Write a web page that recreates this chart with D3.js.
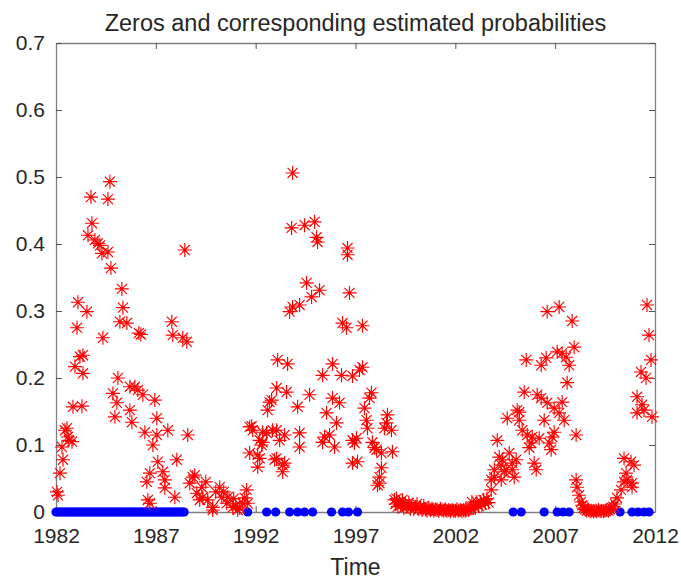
<!DOCTYPE html>
<html>
<head>
<meta charset="utf-8">
<script src="https://cdn.jsdelivr.net/npm/d3@7"></script>
<style>
  body { margin: 0; background: #fff; }
  svg text { font-family: "Liberation Sans", Arial, Helvetica, sans-serif; fill: #262626; }
</style>
</head>
<body>
<div class="container"></div>
<script>
// datos
const xTicks = [1982, 1987, 1992, 1997, 2002, 2007, 2012]
const yTicks = [0, 0.1, 0.2, 0.3, 0.4, 0.5, 0.6, 0.7]

// meses con cero observado (puntos azules)
const zeroTimes = [
  1982.00, 1982.08, 1982.17, 1982.25, 1982.33, 1982.42, 1982.50, 1982.58, 1982.67, 1982.75, 1982.83, 1982.92,
  1983.00, 1983.08, 1983.17, 1983.25, 1983.33, 1983.42, 1983.50, 1983.58, 1983.67, 1983.75, 1983.83, 1983.92,
  1984.00, 1984.08, 1984.17, 1984.25, 1984.33, 1984.42, 1984.50, 1984.58, 1984.67, 1984.75, 1984.83, 1984.92,
  1985.00, 1985.08, 1985.17, 1985.25, 1985.33, 1985.42, 1985.50, 1985.58, 1985.67, 1985.75, 1985.83, 1985.92,
  1986.00, 1986.08, 1986.17, 1986.25, 1986.33, 1986.42, 1986.50, 1986.58, 1986.67, 1986.75, 1986.83, 1986.92,
  1987.00, 1987.08, 1987.17, 1987.25, 1987.33, 1987.42, 1987.50, 1987.58, 1987.67, 1987.75, 1987.83, 1987.92,
  1988.00, 1988.08, 1988.17, 1988.25, 1988.33, 1988.42,
  1991.60, 1992.55, 1993.00, 1993.70, 1994.10, 1994.45, 1994.85, 1995.80, 1996.35, 1996.65, 1997.10,
  2004.90, 2005.30, 2006.45, 2007.10, 2007.40, 2007.70, 2010.25, 2010.85, 2011.15, 2011.45, 2011.70
]

// probabilidades estimadas (asteriscos rojos)
const probTimes = [
  1982.05, 1982.10, 1982.20, 1982.30, 1982.35, 1982.45, 1982.55, 1982.60, 1982.65, 1982.80, 1982.85, 1982.95,
  1983.05, 1983.10, 1983.20, 1983.30, 1983.35, 1983.35, 1983.55, 1983.60, 1983.75, 1983.80, 1983.95,
  1984.10, 1984.20, 1984.30, 1984.35, 1984.60, 1984.60, 1984.70, 1984.75, 1984.85, 1984.95,
  1985.05, 1985.10, 1985.20, 1985.30, 1985.35, 1985.55, 1985.70, 1985.70, 1985.80, 1985.95,
  1986.10, 1986.15, 1986.25, 1986.35, 1986.45, 1986.55, 1986.60, 1986.70, 1986.70, 1986.85, 1986.95,
  1987.05, 1987.05, 1987.10, 1987.35, 1987.45, 1987.45, 1987.60, 1987.80, 1987.85, 1987.95,
  1988.05, 1988.35, 1988.45, 1988.55, 1988.60, 1988.70, 1988.85, 1988.95,
  1989.05, 1989.20, 1989.30, 1989.35, 1989.50, 1989.60, 1989.85, 1989.85,
  1990.00, 1990.20, 1990.30, 1990.40, 1990.55, 1990.60, 1990.85, 1990.90, 1991.00, 1991.10, 1991.20,
  1991.35, 1991.45, 1991.55, 1991.60,
  1991.70, 1991.70, 1991.80, 1991.85, 1992.10, 1992.10, 1992.20, 1992.20, 1992.30, 1992.35, 1992.35,
  1992.55, 1992.60, 1992.70, 1992.80, 1992.85, 1992.95, 1993.05, 1993.05, 1993.05, 1993.10, 1993.20,
  1993.35, 1993.35, 1993.45, 1993.45, 1993.55, 1993.60, 1993.70, 1993.80, 1993.85, 1993.85,
  1994.10, 1994.20, 1994.20, 1994.20, 1994.45, 1994.55, 1994.70, 1994.80, 1994.95,
  1995.05, 1995.10, 1995.20, 1995.35, 1995.35, 1995.45, 1995.55, 1995.70, 1995.85, 1995.85, 1995.95,
  1996.05, 1996.20, 1996.30, 1996.35, 1996.55, 1996.60, 1996.60, 1996.70, 1996.85, 1996.85, 1996.85, 1996.95,
  1997.05, 1997.10, 1997.20, 1997.35, 1997.35, 1997.45, 1997.55, 1997.60, 1997.70, 1997.80, 1997.85, 1997.95,
  1998.05, 1998.10, 1998.20, 1998.20, 1998.30, 1998.30, 1998.45, 1998.55, 1998.60, 1998.80, 1998.85,
  1998.95, 1999.00, 1999.05, 1999.12, 1999.20, 1999.28, 1999.35, 1999.42, 1999.50, 1999.58, 1999.67, 1999.75,
  1999.83, 1999.92, 2000.00, 2000.08, 2000.17, 2000.25, 2000.33, 2000.42, 2000.50, 2000.58, 2000.67, 2000.75,
  2000.83, 2000.92, 2001.00, 2001.08, 2001.17, 2001.25, 2001.33, 2001.42, 2001.50, 2001.58, 2001.67, 2001.75,
  2001.83, 2001.92, 2002.00, 2002.08, 2002.17, 2002.25, 2002.33, 2002.42, 2002.50, 2002.58, 2002.67, 2002.75,
  2002.83, 2002.92, 2003.00, 2003.08, 2003.17, 2003.25, 2003.33, 2003.42, 2003.50, 2003.58, 2003.67,
  2003.80, 2003.80, 2003.95, 2003.95, 2004.10, 2004.20, 2004.30, 2004.30, 2004.35, 2004.45, 2004.55, 2004.60,
  2004.70, 2004.85, 2004.85, 2004.95, 2005.05, 2005.10, 2005.20, 2005.20, 2005.35, 2005.45, 2005.55, 2005.60,
  2005.70, 2005.80, 2005.85, 2005.95, 2006.05, 2006.10, 2006.20, 2006.30, 2006.30, 2006.45, 2006.55, 2006.60,
  2006.60, 2006.70, 2006.80, 2006.85, 2006.95, 2006.95, 2007.10, 2007.20, 2007.20, 2007.35, 2007.35, 2007.45,
  2007.55, 2007.60, 2007.70, 2007.85, 2007.95, 2008.05, 2008.05, 2008.10, 2008.20, 2008.30,
  2008.35, 2008.42, 2008.50, 2008.58, 2008.67, 2008.75, 2008.83, 2008.92, 2009.00, 2009.08, 2009.17, 2009.25,
  2009.33, 2009.42, 2009.50, 2009.58, 2009.67, 2009.75, 2009.83, 2009.92, 2010.00,
  2010.10, 2010.30, 2010.45, 2010.45, 2010.55, 2010.60, 2010.80, 2010.85, 2010.85, 2010.95,
  2011.10, 2011.10, 2011.30, 2011.35, 2011.45, 2011.55, 2011.60, 2011.70, 2011.80, 2011.85
]
const probValues = [
  0.030, 0.025, 0.058, 0.097, 0.078, 0.122, 0.125, 0.112, 0.107, 0.105, 0.157, 0.217,
  0.275, 0.313, 0.232, 0.158, 0.234, 0.207, 0.299, 0.413, 0.470, 0.431, 0.406,
  0.401, 0.398, 0.386, 0.260, 0.388, 0.467, 0.493, 0.364, 0.177, 0.142,
  0.163, 0.200, 0.284, 0.333, 0.305, 0.282, 0.187, 0.152, 0.134, 0.187,
  0.182, 0.267, 0.265, 0.175, 0.119, 0.045, 0.018, 0.058, 0.013, 0.100, 0.167,
  0.140, 0.115, 0.075, 0.060, 0.048, 0.036, 0.122, 0.284, 0.264, 0.022,
  0.078, 0.260, 0.391, 0.254, 0.115, 0.043, 0.052, 0.055,
  0.028, 0.018, 0.037, 0.022, 0.045, 0.018, 0.007, 0.003,
  0.030, 0.037, 0.022, 0.030, 0.013, 0.022, 0.007, 0.020, 0.010, 0.003, 0.006,
  0.013, 0.021, 0.033, 0.013,
  0.127, 0.088, 0.128, 0.122, 0.085, 0.067, 0.107, 0.080, 0.100, 0.104, 0.119,
  0.118, 0.152, 0.164, 0.167, 0.122, 0.078, 0.185, 0.122, 0.080, 0.227, 0.107,
  0.070, 0.060, 0.115, 0.073, 0.179, 0.221, 0.299, 0.424, 0.506, 0.306,
  0.157, 0.309, 0.118, 0.097, 0.428, 0.342, 0.175, 0.321, 0.433,
  0.410, 0.403, 0.331, 0.204, 0.104, 0.112, 0.148, 0.115, 0.221, 0.170, 0.097,
  0.133, 0.163, 0.204, 0.282, 0.275, 0.394, 0.384, 0.327, 0.203, 0.107, 0.073, 0.103,
  0.110, 0.075, 0.212, 0.278, 0.216, 0.155, 0.137, 0.125, 0.170, 0.178, 0.104, 0.096,
  0.093, 0.040, 0.052, 0.043, 0.088, 0.066, 0.125, 0.133, 0.145, 0.122, 0.090,
  0.018, 0.012, 0.020, 0.008, 0.015, 0.010, 0.018, 0.006, 0.012, 0.008, 0.014, 0.005,
  0.010, 0.004, 0.008, 0.012, 0.004, 0.007, 0.003, 0.009, 0.004, 0.002, 0.006, 0.003,
  0.005, 0.002, 0.004, 0.003, 0.002, 0.005, 0.003, 0.002, 0.004, 0.002, 0.003, 0.001,
  0.003, 0.002, 0.002, 0.004, 0.002, 0.003, 0.001, 0.003, 0.002, 0.004, 0.003, 0.006,
  0.015, 0.008, 0.006, 0.015, 0.009, 0.015, 0.011, 0.018, 0.013, 0.020, 0.014,
  0.033, 0.048, 0.063, 0.052, 0.107, 0.082, 0.070, 0.048, 0.078, 0.060, 0.063, 0.140,
  0.088, 0.073, 0.063, 0.052, 0.078, 0.152, 0.149, 0.137, 0.122, 0.179, 0.227, 0.115,
  0.096, 0.103, 0.112, 0.073, 0.063, 0.175, 0.110, 0.219, 0.170, 0.137, 0.230, 0.299,
  0.163, 0.103, 0.093, 0.112, 0.155, 0.119, 0.239, 0.306, 0.148, 0.237, 0.164, 0.137,
  0.231, 0.193, 0.219, 0.285, 0.246, 0.115, 0.048, 0.037, 0.025, 0.015,
  0.010, 0.006, 0.004, 0.002, 0.003, 0.001, 0.002, 0.001, 0.002, 0.001, 0.003, 0.001,
  0.002, 0.001, 0.002, 0.003, 0.002, 0.004, 0.006, 0.008, 0.012,
  0.021, 0.033, 0.045, 0.080, 0.058, 0.048, 0.075, 0.043, 0.037, 0.070,
  0.172, 0.148, 0.209, 0.160, 0.152, 0.200, 0.309, 0.264, 0.227, 0.142
]

const dim = { WIDTH: 681, HEIGHT: 580 }
const margin = { left: 56, right: 26, top: 43, bottom: 68 }

const svg = d3.select(".container")
    .append("svg")
    .attr("width", dim.WIDTH)
    .attr("height", dim.HEIGHT)

const x = d3.scaleLinear()
    .domain([1982, 2012])
    .range([margin.left, dim.WIDTH - margin.right])

const y = d3.scaleLinear()
    .domain([0, 0.7])
    .range([dim.HEIGHT - margin.bottom, margin.top])

const axisColor = "#7f7f7f"

// ejes con ticks hacia adentro
const ejes = svg.append("g").attr("class", "ejes")

ejes.append("g")
    .attr("transform", `translate(0, ${y(0)})`)
    .call(d3.axisBottom(x).tickValues(xTicks).tickFormat(d3.format("d")).tickSizeInner(-6).tickSizeOuter(0).tickPadding(16))
ejes.append("g")
    .attr("transform", `translate(0, ${y(0.7)})`)
    .call(d3.axisTop(x).tickValues(xTicks).tickFormat("").tickSizeInner(-6).tickSizeOuter(0))
ejes.append("g")
    .attr("transform", `translate(${x(1982)}, 0)`)
    .call(d3.axisLeft(y).tickValues(yTicks).tickFormat(d3.format("")).tickSizeInner(-6).tickSizeOuter(0).tickPadding(11))
ejes.append("g")
    .attr("transform", `translate(${x(2012)}, 0)`)
    .call(d3.axisRight(y).tickValues(yTicks).tickFormat("").tickSizeInner(-6).tickSizeOuter(0))

ejes.selectAll(".domain").attr("stroke", axisColor).attr("stroke-width", 1.3)
ejes.selectAll(".tick line").attr("stroke", "#555").attr("stroke-width", 1)
ejes.selectAll(".tick text")
    .style("font-size", "21px")
    .attr("fill", "#262626")

// puntos azules (ceros)
svg.append("g")
    .attr("class", "ceros")
    .selectAll("circle")
    .data(zeroTimes)
    .join("circle")
    .attr("cx", d => x(d))
    .attr("cy", y(0))
    .attr("r", 4.6)
    .attr("fill", "#0000ff")

// asteriscos rojos
const s = 7
const a = s * 0.72
const asterisco = `M${-s},0H${s}M0,${-s}V${s}M${-a},${-a}L${a},${a}M${-a},${a}L${a},${-a}`

svg.append("g")
    .attr("class", "probs")
    .selectAll("path")
    .data(probTimes.map((t, i) => ({ t: t, p: probValues[i] })))
    .join("path")
    .attr("d", asterisco)
    .attr("transform", d => `translate(${x(d.t)}, ${y(d.p)})`)
    .attr("fill", "none")
    .attr("stroke", "#ff0000")
    .attr("stroke-width", 1.15)

svg.append("text")
    .attr("x", (x(1982) + x(2012)) / 2)
    .attr("y", 31)
    .attr("text-anchor", "middle")
    .style("font-size", "23.5px")
    .text("Zeros and corresponding estimated probabilities")

svg.append("text")
    .attr("x", (x(1982) + x(2012)) / 2)
    .attr("y", 575)
    .attr("text-anchor", "middle")
    .style("font-size", "23px")
    .text("Time")
</script>
</body>
</html>
